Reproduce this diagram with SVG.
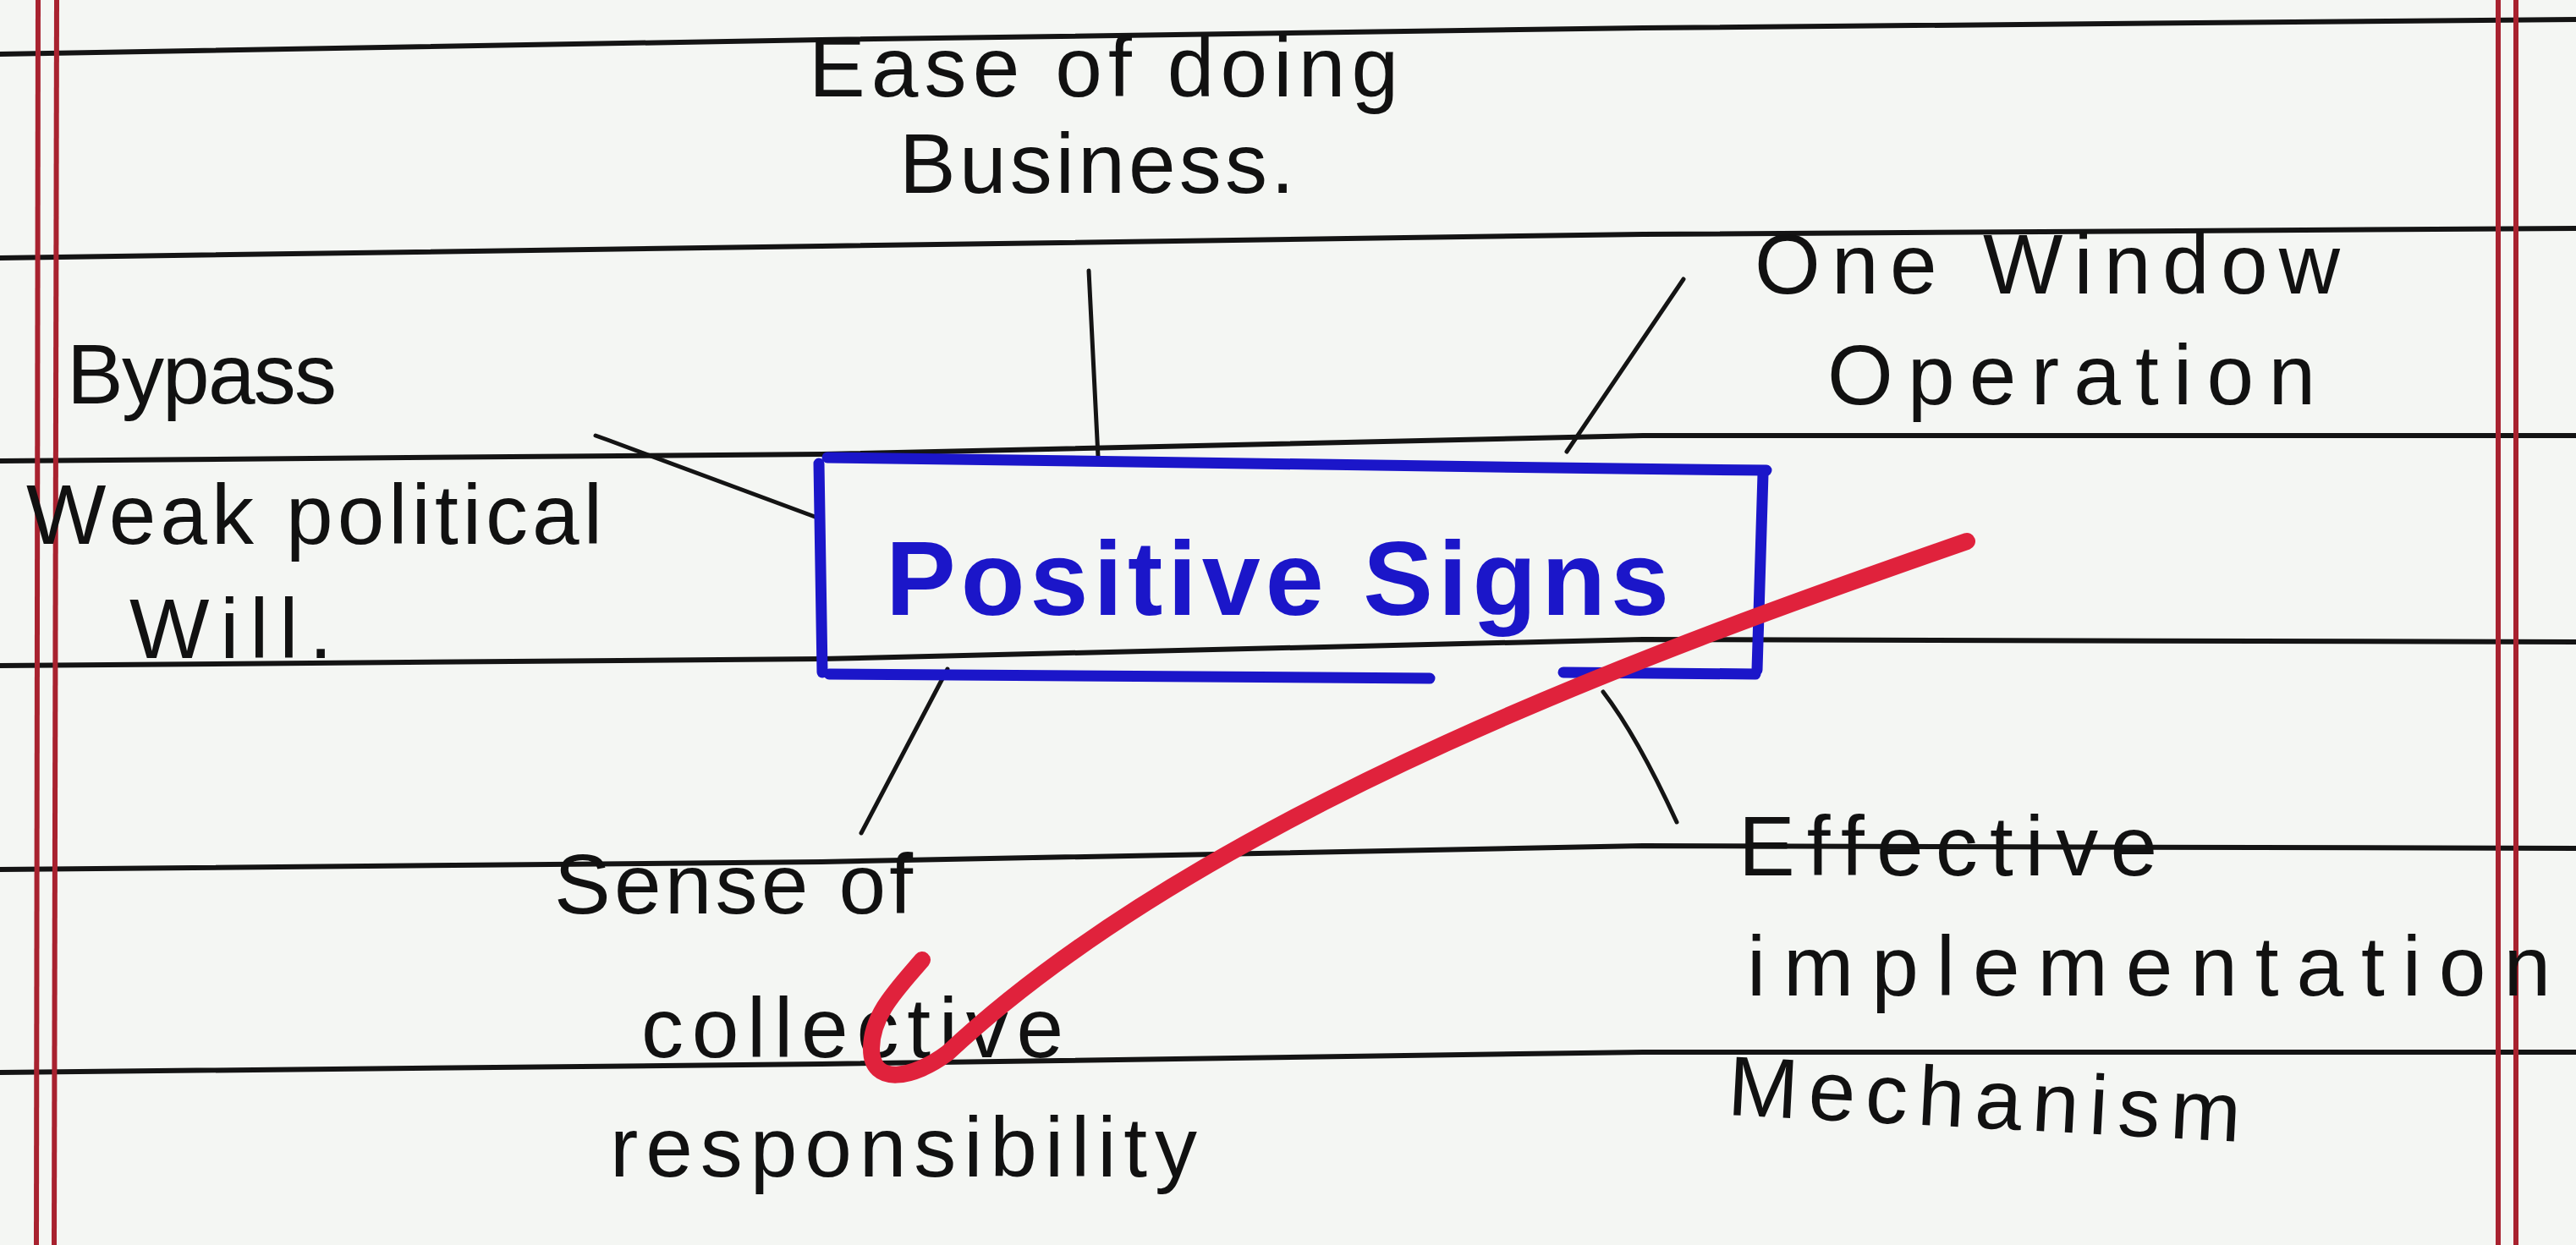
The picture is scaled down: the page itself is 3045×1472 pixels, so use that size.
<svg xmlns="http://www.w3.org/2000/svg" width="3045" height="1472" viewBox="0 0 3045 1472">
  <defs>
    <style>
      .rule { fill: none; stroke: #141414; stroke-width: 6; stroke-linecap: round; stroke-linejoin: round; }
      .margin { fill: none; stroke: #a8222f; stroke-width: 6; }
      .ink { font-family: "Liberation Sans", Arial, sans-serif; font-size: 100px; fill: #111111; }
      .conn { fill: none; stroke: #141414; stroke-width: 5; stroke-linecap: round; }
      .box { fill: none; stroke: #1b16c9; stroke-width: 13; stroke-linecap: round; stroke-linejoin: round; }
      .title { font-family: "Liberation Sans", Arial, sans-serif; font-size: 124px; font-weight: bold; fill: #1b16c9; }
      .red { fill: none; stroke: #e0223c; stroke-width: 20; stroke-linecap: round; stroke-linejoin: round; }
    </style>
  </defs>

  <rect x="0" y="0" width="3045" height="1472" fill="#f4f6f3"/>

  <g id="paper">
    <polyline class="rule" points="0,64 971,47 1942,33 3045,23"/>
    <polyline class="rule" points="0,305 971,291 1942,277 3045,270"/>
    <polyline class="rule" points="0,545 971,537 1942,515 3045,515"/>
    <polyline class="rule" points="0,787 971,779 1942,756 3045,759"/>
    <polyline class="rule" points="0,1028 971,1019 1942,1000 3045,1003"/>
    <polyline class="rule" points="0,1268 971,1258 1942,1244 3045,1244"/>
    <line class="margin" x1="45" y1="0" x2="43" y2="1472"/>
    <line class="margin" x1="67" y1="0" x2="64" y2="1472"/>
    <line class="margin" x1="2953" y1="0" x2="2953" y2="1472"/>
    <line class="margin" x1="2974" y1="0" x2="2974" y2="1472"/>
  </g>

  <g id="connectors">
    <line class="conn" x1="1287" y1="320" x2="1298" y2="540"/>
    <line class="conn" x1="1990" y1="330" x2="1852" y2="534"/>
    <path class="conn" d="M 704 515 L 718 520 L 966 612"/>
    <line class="conn" x1="1120" y1="791" x2="1018" y2="985"/>
    <path class="conn" d="M 1895 818 Q 1935 870 1982 972"/>
  </g>

  <g id="node-center">
    <path class="box" d="M 978 541 C 1300 546, 1700 552, 2088 556"/>
    <path class="box" d="M 2084 560 L 2077 792"/>
    <path class="box" d="M 1848 795 L 2075 797"/>
    <path class="box" d="M 980 797 L 1690 802"/>
    <path class="box" d="M 968 548 L 972 795"/>
    <text class="title" x="1047" y="727" textLength="926" lengthAdjust="spacing">Positive Signs</text>
  </g>

  <g id="node-ease">
    <text class="ink" x="956" y="114" textLength="697" lengthAdjust="spacing">Ease of doing</text>
    <text class="ink" x="1063" y="228" textLength="467" lengthAdjust="spacing">Business.</text>
  </g>

  <g id="node-onewindow">
    <text class="ink" x="2074" y="347" textLength="692" lengthAdjust="spacing">One Window</text>
    <text class="ink" x="2160" y="478" textLength="577" lengthAdjust="spacing">Operation</text>
  </g>

  <g id="node-bypass">
    <text class="ink" x="79" y="477" textLength="319" lengthAdjust="spacing">Bypass</text>
    <text class="ink" x="31" y="643" textLength="681" lengthAdjust="spacing">Weak political</text>
    <text class="ink" x="153" y="778" textLength="240" lengthAdjust="spacing">Will.</text>
  </g>

  <g id="node-sense">
    <text class="ink" x="655" y="1080" textLength="424" lengthAdjust="spacing">Sense of</text>
    <text class="ink" x="758" y="1250" textLength="499" lengthAdjust="spacing">collective</text>
    <text class="ink" x="721" y="1391" textLength="694" lengthAdjust="spacing">responsibility</text>
  </g>

  <g id="node-effective">
    <text class="ink" x="2055" y="1035" textLength="495" lengthAdjust="spacing">Effective</text>
    <text class="ink" x="2065" y="1177" textLength="950" lengthAdjust="spacing">implementation</text>
    <text class="ink" x="2041" y="1318" textLength="607" lengthAdjust="spacing" transform="rotate(3 2041 1318)">Mechanism</text>
  </g>

  <g id="annotation">
    <path class="red" d="M 2325 640 C 1980 760, 1430 955, 1120 1245 C 1080 1275, 1030 1285, 1030 1240 C 1030 1200, 1060 1170, 1090 1135"/>
  </g>
</svg>
